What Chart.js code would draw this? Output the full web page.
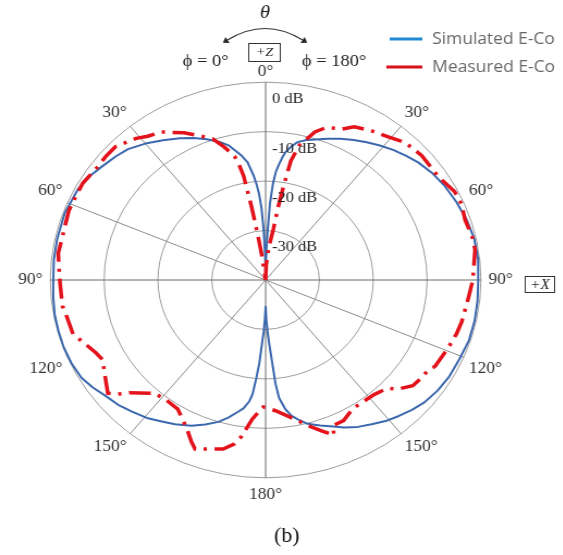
<!DOCTYPE html>
<html>
<head>
<meta charset="utf-8">
<script src="https://cdn.jsdelivr.net/npm/chart.js@4"></script>
<style>
  html, body { margin: 0; padding: 0; background: #fff; overflow: hidden; }
  /* the reference picture is stretched a little wider than tall */
  #wrap { width: 517px; height: 555px; transform: scaleX(1.0885); transform-origin: 0 0; }
</style>
</head>
<body>
<div id="wrap"><canvas id="pattern"></canvas></div>
<script>
// Angle index = degrees clockwise from +Z (top). Left half (phi = 0) is stored as 360 - theta.
const simAngles = [0, 1, 2, 3, 4, 5, 6, 7, 8, 10, 12, 15, 18, 22, 26, 30, 34, 38, 42, 46, 50, 55, 60, 66, 72, 78, 84,
  90, 96, 102, 108, 114, 120, 125, 130, 134, 138, 142, 146, 150, 154, 157, 161, 165, 168, 170, 172, 174, 175, 176,
  177, 178, 179, 180,
  181, 182, 183, 184, 185, 186, 187, 189, 191, 194, 197, 201, 205, 210, 214, 218, 223, 227, 232, 236, 240, 245, 250,
  255, 260, 265, 270, 276, 282, 290, 298, 303, 307, 312, 316, 321, 326, 331, 335, 339, 343, 346, 350, 352, 354, 355,
  356, 357, 358, 359];
const simValues = [-39, -36, -31, -24.5, -20.5, -18, -16.6, -15.2, -14, -12.6, -11.5, -10.7, -10.1, -9.2, -8.2, -7.3,
  -6.4, -5.5, -4.6, -3.8, -3.0, -2.25, -1.7, -1.2, -0.7, -0.35, -0.3,
  -0.5, -0.4, -0.3, -0.3, -0.6, -0.7, -1.0, -1.5, -2.2, -3.0, -3.8, -4.8, -5.7, -6.8, -7.8, -8.9, -9.9, -11.2, -12.1,
  -13.6, -16, -19, -24, -27, -29.5, -32, -34.6,
  -32, -29.5, -27, -23, -20, -16.8, -15.3, -13.7, -12.8, -11.3, -10, -8.7, -7.5, -6.3, -5.5, -4.5, -3.6, -2.8, -2.1,
  -1.2, -0.5, -0.2, -0.1, -0.15, -0.2, -0.4, -0.55, -0.45, -0.4, -0.3, -0.6, -1.2, -1.9, -2.6, -3.2, -4.5, -5.9, -7.2,
  -8.3, -9.5, -10.8, -12, -14.5, -16, -18.8, -20.5, -22.5, -25.5, -30, -35];

const measAngles = [0, 2, 5, 8, 9, 10, 11, 13, 17, 20, 25, 28, 33, 38, 43, 49, 57, 63, 67, 72, 77, 81, 90, 96, 103,
  107, 112, 119, 121, 125, 128, 132, 134, 139, 147, 150, 153, 157, 158, 161, 165, 168, 176, 180,
  181, 185, 188, 190, 193, 201, 203, 206, 212, 217, 222, 228, 230, 232, 238, 242, 245, 253, 260, 262, 268, 271, 278,
  280, 291, 295, 300, 306, 310, 314, 320, 323, 327, 333, 337, 341, 344, 347, 348, 349, 350, 351, 352];
const measValues = [-40, -37, -33.5, -29.5, -25, -20.5, -15.5, -12, -8.7, -7.2, -6.3, -4.9, -4.0, -3.2, -2.0, -1.6,
  -1.7, -0.6, -0.5, -1.0, -0.65, -0.6, -1.5, -2.2, -2.6, -2.9, -3.4, -4.0, -4.7, -5.0, -5.3, -7.0, -8.5, -9.3, -9.4,
  -8.9, -8.1, -8.0, -6.1, -7.7, -9.5, -10.9, -13.5, -14.2,
  -14.3, -11.8, -8.1, -6.3, -4.9, -3.4, -4.6, -6.6, -9.2, -9.5, -9.2, -5.9, -4.1, -2.8, -4.7, -5.7, -5.2, -2.6, -2.2,
  -1.9, -1.85, -1.7, -1.1, -1.2, -0.85, -0.9, -0.8, -1.3, -1.2, -1.2, -2.6, -3.6, -4.3, -6.6, -8.3, -9.8, -12, -14.3,
  -16, -18.5, -25, -31, -35];

const tickIndex = [0, 39, 67, 90, 113, 141, 180, 219, 247, 270, 293, 321];
const tickText = ['0°', '30°', '60°', '90°', '120°', '150°', '180°', '150°', '120°', '90°', '60°', '30°'];
const spokeIndex = [0, 39, 90, 113, 141, 180, 219, 270, 293, 321];
const ringValues = [0, -10, -20, -30];
const ringText = ['0 dB', '-10 dB', '-20 dB', '-30 dB'];
const seriesNames = ['Simulated E-Co', 'Measured E-Co'];

const SERIF = '"Liberation Serif", "DejaVu Serif", serif';
const SIM_COLOR = '#3b67ad';
const MEAS_COLOR = '#e3121b';

// spread the sparse readings over one slot per degree
function spread(angles, values) {
  const out = new Array(360).fill(null);
  angles.forEach((a, i) => { out[a] = values[i]; });
  return out;
}

const labels = [];
for (let i = 0; i < 360; i++) labels.push(String(i));

function labelPadding(index) {
  if (index === 0) return 1;
  if (index === 90 || index === 180 || index === 270) return 7;
  return 5;
}

function arrowHead(ctx, x, y, dx, dy) {
  const len = Math.hypot(dx, dy);
  const ux = dx / len, uy = dy / len;
  ctx.beginPath();
  ctx.moveTo(x + ux * 5, y + uy * 5);
  ctx.lineTo(x - uy * 3.5, y + ux * 3.5);
  ctx.lineTo(x + uy * 3.5, y - ux * 3.5);
  ctx.closePath();
  ctx.fill();
}

// texts and marks around the polar plot
const annotations = {
  id: 'annotations',
  afterDraw(chart) {
    const ctx = chart.ctx;
    const r = chart.scales.r;
    ctx.save();
    ctx.fillStyle = '#222';
    ctx.strokeStyle = '#333';
    ctx.textBaseline = 'middle';

    // dB ring labels
    ctx.font = '15px ' + SERIF;
    ctx.textAlign = 'left';
    ringValues.forEach((v, i) => {
      const y = r.yCenter - r.getDistanceFromCenterForValue(v) + 17;
      ctx.fillText(ringText[i], r.xCenter + 6, y);
    });

    // theta arrow over the top
    ctx.lineWidth = 1.2;
    ctx.beginPath();
    ctx.moveTo(209, 40);
    ctx.quadraticCurveTo(243.5, 17, 278, 40);
    ctx.stroke();
    arrowHead(ctx, 209, 40, 209 - 243.5, 40 - 17);
    arrowHead(ctx, 278, 40, 278 - 243.5, 40 - 17);

    ctx.textAlign = 'center';
    ctx.font = 'italic 19px ' + SERIF;
    ctx.fillText('θ', 243.5, 13);

    ctx.font = '17px ' + SERIF;
    ctx.fillText('ϕ = 0°', 189, 62);
    ctx.fillText('ϕ = 180°', 307, 62);

    ctx.lineWidth = 1;
    ctx.strokeRect(228.5, 43.5, 29, 18);
    ctx.font = 'italic 13px ' + SERIF;
    ctx.fillText('+Z', 243, 53);

    ctx.strokeRect(482.5, 276.5, 27, 16);
    ctx.font = 'italic 14px ' + SERIF;
    ctx.fillText('+X', 496, 285);

    // legend
    ctx.lineWidth = 3;
    ctx.strokeStyle = '#1f8ad3';
    ctx.beginPath(); ctx.moveTo(358, 39); ctx.lineTo(388, 39); ctx.stroke();
    ctx.strokeStyle = '#d8111b';
    ctx.beginPath(); ctx.moveTo(355, 67); ctx.lineTo(388, 67); ctx.stroke();
    ctx.textAlign = 'left';
    ctx.fillStyle = '#666';
    ctx.font = '16px "Open Sans", sans-serif';
    ctx.fillText(seriesNames[0], 397, 39);
    ctx.fillText(seriesNames[1], 397, 67);

    // caption
    ctx.textAlign = 'center';
    ctx.fillStyle = '#111';
    ctx.font = '20px ' + SERIF;
    ctx.fillText('(b)', 263.5, 537);
    ctx.restore();
  }
};

new Chart(document.getElementById('pattern'), {
  type: 'radar',
  data: {
    labels: labels,
    datasets: [
      {
        label: seriesNames[0],
        data: spread(simAngles, simValues),
        borderColor: SIM_COLOR,
        borderWidth: 2,
        borderJoinStyle: 'round',
        pointRadius: 0,
        fill: false,
        spanGaps: true,
        order: 2
      },
      {
        label: seriesNames[1],
        data: spread(measAngles, measValues),
        borderColor: MEAS_COLOR,
        borderWidth: 3.5,
        borderDash: [20, 7, 3, 7],
        pointRadius: 0,
        fill: false,
        spanGaps: true,
        order: 1
      }
    ]
  },
  options: {
    responsive: true,
    maintainAspectRatio: false,
    animation: false,
    layout: { padding: { top: 60, bottom: 47, left: 0, right: 29 } },
    plugins: {
      legend: { display: false },
      tooltip: { enabled: false }
    },
    scales: {
      r: {
        min: -40,
        max: 0,
        ticks: { stepSize: 10, display: false },
        grid: { circular: true, color: '#9c9c9c', lineWidth: 1 },
        angleLines: {
          color: (c) => (c.index % 90 === 0 ? '#6a6a6a' : '#8c8c8c'),
          lineWidth: (c) => (spokeIndex.includes(c.index) ? 1 : 0)
        },
        pointLabels: {
          padding: (c) => labelPadding(c.index),
          color: '#333',
          font: (c) => {
            const k = tickIndex.indexOf(c.index);
            return { family: SERIF, size: k >= 0 ? 16 : 1, lineHeight: 1.2 };
          },
          callback: (value, index) => {
            const k = tickIndex.indexOf(index);
            return k >= 0 ? tickText[k] : '';
          }
        }
      }
    }
  },
  plugins: [annotations]
});
</script>
</body>
</html>
